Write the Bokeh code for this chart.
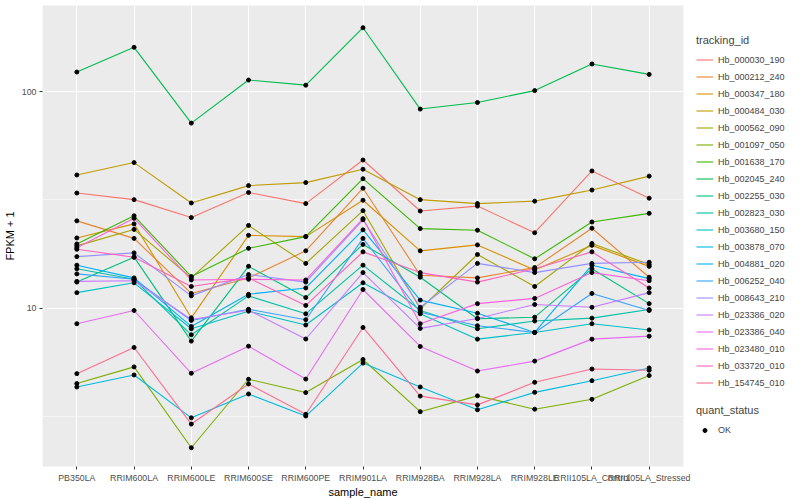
from bokeh.plotting import figure
from bokeh.layouts import row
from bokeh.models import FactorRange, Range1d, FixedTicker, Legend, LegendItem, NumeralTickFormatter
from bokeh.embed import file_html
from bokeh.resources import INLINE

samples = ["PB350LA", "RRIM600LA", "RRIM600LE", "RRIM600SE", "RRIM600PE", "RRIM901LA",
           "RRIM928BA", "RRIM928LA", "RRIM928LE", "RRII105LA_Control", "RRII105LA_Stressed"]

tracking_ids = ["Hb_000030_190", "Hb_000212_240", "Hb_000347_180", "Hb_000484_030", "Hb_000562_090",
                "Hb_001097_050", "Hb_001638_170", "Hb_002045_240", "Hb_002255_030", "Hb_002823_030",
                "Hb_003680_150", "Hb_003878_070", "Hb_004881_020", "Hb_006252_040", "Hb_008643_210",
                "Hb_023386_020", "Hb_023386_040", "Hb_023480_010", "Hb_033720_010", "Hb_154745_010"]

# FPKM + 1 per sample
hb_000030_190 = [34.0, 31.7, 26.2, 34.2, 30.4, 48.3, 28.1, 29.6, 22.3, 43.0, 32.2]
hb_000212_240 = [25.3, 21.0, 11.7, 13.8, 18.4, 35.8, 14.2, 13.8, 15.4, 23.4, 13.9]
hb_000347_180 = [21.1, 24.5, 9.03, 21.7, 21.4, 31.5, 18.4, 19.6, 15.0, 19.5, 15.6]
hb_000484_030 = [41.2, 47.0, 30.6, 36.8, 38.0, 43.8, 31.7, 30.4, 31.2, 35.1, 40.7]
hb_000562_090 = [19.4, 23.1, 13.8, 24.1, 16.1, 28.2, 9.94, 17.7, 12.6, 19.9, 15.9]
hb_001097_050 = [4.49, 5.36, 2.27, 4.70, 4.08, 5.80, 3.33, 3.94, 3.42, 3.80, 4.89]
hb_001638_170 = [19.8, 26.7, 14.0, 18.9, 21.4, 39.6, 23.3, 22.9, 16.9, 25.0, 27.4]
hb_002045_240 = [123, 160, 71.5, 113, 107, 197, 83, 89, 101, 134, 120]
hb_002255_030 = [13.2, 17.2, 7.05, 15.6, 11.2, 19.7, 13.9, 8.94, 9.09, 15.2, 10.5]
hb_002823_030 = [15.2, 13.6, 7.54, 11.4, 9.42, 15.8, 9.76, 8.04, 8.73, 9.00, 9.86]
hb_003680_150 = [11.8, 13.1, 8.04, 9.69, 8.37, 13.1, 9.42, 7.20, 7.73, 8.48, 7.94]
hb_003878_070 = [4.33, 4.92, 3.12, 4.02, 3.18, 5.58, 4.33, 3.40, 4.09, 4.63, 5.30]
hb_004881_020 = [15.8, 13.8, 8.24, 11.6, 12.4, 23.0, 10.9, 9.48, 7.73, 15.8, 13.7]
hb_006252_040 = [14.4, 13.6, 8.78, 9.89, 8.85, 21.0, 9.58, 8.30, 7.73, 11.7, 9.76]
hb_008643_210 = [17.3, 18.0, 11.4, 14.3, 13.2, 25.6, 10.1, 16.1, 14.6, 16.1, 16.3]
hb_023386_020 = [13.3, 13.4, 8.87, 9.79, 7.21, 14.6, 8.07, 8.97, 10.4, 10.1, 11.8]
hb_023386_040 = [8.48, 9.76, 5.01, 6.68, 4.71, 12.2, 6.66, 5.13, 5.70, 7.20, 7.43]
hb_023480_010 = [19.0, 26.0, 13.5, 13.6, 13.5, 25.9, 8.48, 10.5, 11.1, 14.6, 13.4]
hb_033720_010 = [18.7, 17.2, 12.6, 13.8, 10.3, 18.2, 14.6, 13.2, 15.2, 18.2, 12.4]
hb_154745_010 = [4.99, 6.59, 2.92, 4.47, 3.24, 8.15, 3.93, 3.58, 4.55, 5.24, 5.17]

series = [hb_000030_190, hb_000212_240, hb_000347_180, hb_000484_030, hb_000562_090,
          hb_001097_050, hb_001638_170, hb_002045_240, hb_002255_030, hb_002823_030,
          hb_003680_150, hb_003878_070, hb_004881_020, hb_006252_040, hb_008643_210,
          hb_023386_020, hb_023386_040, hb_023480_010, hb_033720_010, hb_154745_010]

quant_status = ["OK"]

y_ticks = [10, 100]
y_minor = [3.162, 31.62]

palette = ["#F8766D", "#EA8331", "#D89000", "#C09B00", "#A3A500", "#7CAE00", "#39B600", "#00BB4E",
           "#00BF7D", "#00C1A3", "#00BFC4", "#00BAE0", "#00B0F6", "#35A2FF", "#9590FF", "#C77CFF",
           "#E76BF3", "#FA62DB", "#FF62BC", "#FF6C91"]

FONT = "Liberation Sans"
NAN = float("nan")

p = figure(width=692, height=500, output_backend="svg", toolbar_location=None,
           x_range=FactorRange(*samples, range_padding=0.1, range_padding_units="absolute"),
           y_range=Range1d(1.86, 249.5), y_axis_type="log",
           min_border_left=40, min_border_right=9, min_border_top=5, min_border_bottom=30)

p.background_fill_color = "#EBEBEB"
p.border_fill_color = "white"
p.outline_line_color = None

p.yaxis.ticker = FixedTicker(ticks=y_ticks, minor_ticks=y_minor)
p.yaxis.formatter = NumeralTickFormatter(format="0")
p.xgrid.grid_line_color = "white"
p.xgrid.grid_line_width = 1.1
p.ygrid.grid_line_color = "white"
p.ygrid.grid_line_width = 1.1
p.ygrid.minor_grid_line_color = "white"
p.ygrid.minor_grid_line_width = 0.55

for ax in (p.xaxis, p.yaxis):
    ax.axis_line_color = None
    ax.major_tick_line_color = "#333333"
    ax.major_tick_out = 3
    ax.major_tick_in = 0
    ax.minor_tick_line_color = None
    ax.major_label_text_font = FONT
    ax.major_label_text_font_size = "8.8px"
    ax.major_label_text_color = "#4D4D4D"
    ax.major_label_standoff = 2
    ax.axis_label_text_font = FONT
    ax.axis_label_text_font_size = "11px"
    ax.axis_label_text_font_style = "normal"
    ax.axis_label_text_color = "black"
    ax.axis_label_standoff = 3
p.xaxis.axis_label_standoff = 0
p.xaxis.major_label_standoff = 3

p.xaxis.axis_label = "sample_name"
p.yaxis.axis_label = "FPKM + 1"

for vals, col in zip(series, palette):
    p.line(samples, vals, line_color=col, line_width=1.1)

all_x = [s for _ in series for s in samples]
all_y = [v for vals in series for v in vals]
p.scatter(all_x, all_y, marker="circle", size=4, fill_color="black", line_color="black")

# legend panel (its frame is aligned with the main frame by the row layout)
lp = figure(width=108, height=500, output_backend="svg", toolbar_location=None,
            x_range=Range1d(0, 1), y_range=Range1d(0, 1),
            x_axis_location=None, y_axis_location=None, min_border=0)
lp.outline_line_color = None
lp.background_fill_color = "white"
lp.border_fill_color = "white"
lp.grid.visible = False

key_lines = [lp.line(x=[NAN], y=[NAN], line_color=col, line_width=1.1) for col in palette]
key_pt = lp.scatter(x=[NAN], y=[NAN], marker="circle", size=4, fill_color="black", line_color="black")

common = dict(border_line_color=None, background_fill_alpha=0,
              padding=0, margin=0, glyph_width=17, label_height=17,
              label_standoff=5, label_text_font=FONT, label_text_font_size="9px",
              title_text_font=FONT, title_text_font_size="11px", title_text_font_style="normal",
              title_standoff=5, spacing=0)

leg1 = Legend(items=[LegendItem(label=t, renderers=[r]) for t, r in zip(tracking_ids, key_lines)],
              title="tracking_id", location=(4, 75), glyph_height=17, **common)
leg2 = Legend(items=[LegendItem(label=quant_status[0], renderers=[key_pt])],
              title="quant_status", location=(4, 28), glyph_height=10, **common)
lp.add_layout(leg1, "center")
lp.add_layout(leg2, "center")

layout = row(p, lp)
open("out.html", "w").write(file_html(layout, INLINE))
